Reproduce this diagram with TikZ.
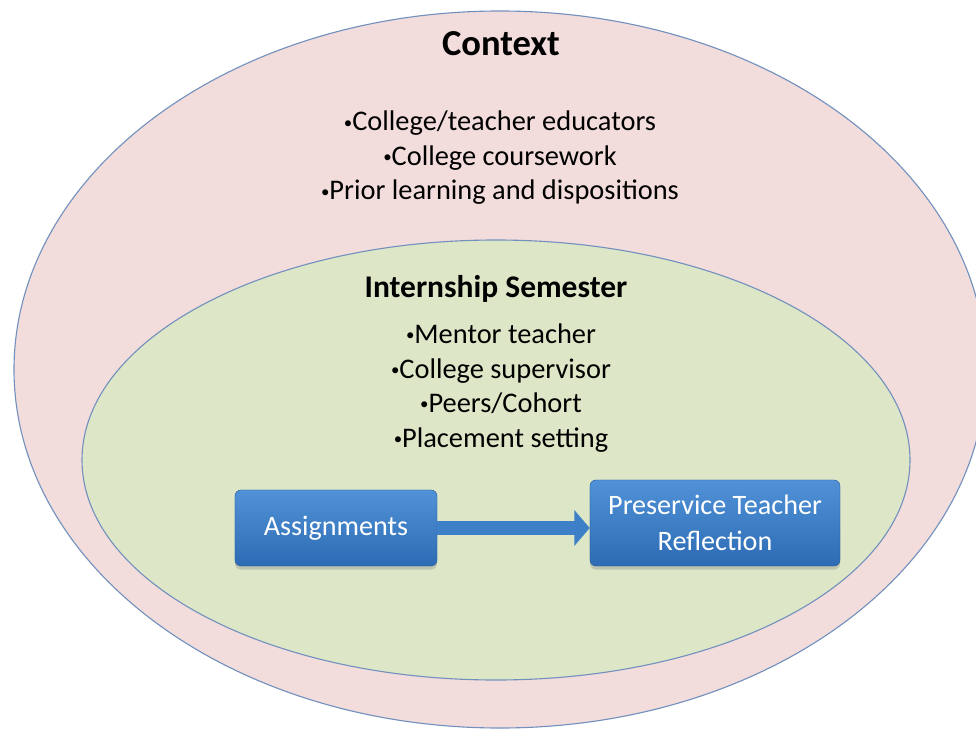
\documentclass[tikz,border=0pt]{standalone}
\usepackage{fontspec}
\setmainfont{Carlito}
\usetikzlibrary{positioning,shadows,arrows.meta}
\tikzstyle{pixels} = [x = 0.025cm, y = -0.025cm]
\definecolor{outlineColor}{RGB}{115,145,190}
\definecolor{contextColor}{RGB}{242,221,220}
\definecolor{internshipColor}{RGB}{221,231,199}
\definecolor{boxTopColor}{RGB}{80,145,215}
\definecolor{boxBottomColor}{RGB}{45,108,180}
\definecolor{arrowColor}{RGB}{62,128,200}
\tikzstyle{contextStyle} = [draw=outlineColor, fill=contextColor, line width=0.8pt]
\tikzstyle{internshipStyle} = [draw=outlineColor, fill=internshipColor, line width=0.8pt]
\tikzstyle{titleText} = [font=\bfseries\fontsize{26}{30}\selectfont]
\tikzstyle{subTitleText} = [font=\bfseries\fontsize{22.4}{26}\selectfont]
\tikzstyle{itemText} = [align=center, font=\fontsize{20.2}{24.5}\selectfont]
\tikzstyle{boxStyle} = [rounded corners = .15cm, top color=boxTopColor, bottom color=boxBottomColor,
  draw=boxBottomColor!85!black, line width=0.3pt, text=white, align=center,
  font=\fontsize{20}{25.6}\selectfont,
  drop shadow={shadow xshift=0pt, shadow yshift=-2.5pt, opacity=0.35}]
\tikzstyle{arrowStyle} = [draw=arrowColor, line width=10pt, -{Triangle[length=11pt, width=25pt]}]
\newcommand{\bulletItem}[1]{\raisebox{0.1em}{\fontsize{12}{12}\selectfont\textbullet}#1}

\begin{document}
\begin{tikzpicture}[pixels]
  \useasboundingbox (0,0) rectangle (976,731);
  % outer context
  \draw [contextStyle] (500,369.5) ellipse [x radius=486, y radius=358.5];
  \node [titleText] (contextTitle) at (501,44) {Context};
  \node [itemText] (contextItems) at (500,158) {\bulletItem{College/teacher educators}\\
    \bulletItem{College coursework}\\ \bulletItem{Prior learning and dispositions}};

  % internship semester
  \draw [internshipStyle] (496,460) ellipse [x radius=414, y radius=220];
  \node [subTitleText] (internshipTitle) at (496,289) {Internship Semester};
  \node [itemText] (internshipItems) at (501,388)
    {\bulletItem{Mentor teacher}\\ \bulletItem{College supervisor}\\
     \bulletItem{Peers/Cohort}\\ \bulletItem{Placement setting}};

  % assignments -> reflection
  \node [boxStyle, minimum width=5.05cm, minimum height=1.9cm] (assignments) at (336,528) {Assignments};
  \node [boxStyle, minimum width=6.25cm, minimum height=2.15cm] (reflection) at (715,523)
    {Preservice Teacher\\Reflection};
  \draw [arrowStyle] (assignments.east) -- (assignments.east -| reflection.west);
\end{tikzpicture}
\end{document}
